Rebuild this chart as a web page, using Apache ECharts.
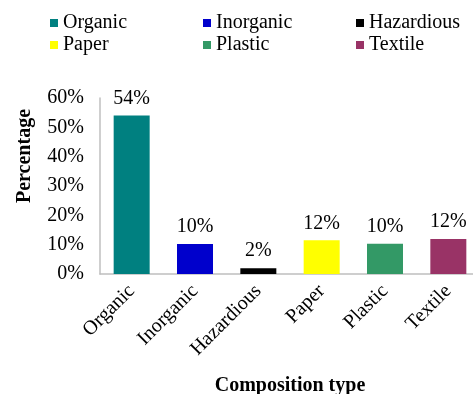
<!DOCTYPE html>
<html lang="en">
<head>
    <meta charset="UTF-8">
    <title>Composition type</title>
    <style>
        html, body { margin: 0; padding: 0; background: #fff; }
        #main { width: 473px; height: 394px; }
    </style>
</head>
<body>
<div id="main"></div>
<script src="https://cdn.jsdelivr.net/npm/echarts@6/dist/echarts.min.js"></script>
<script>
    const categories = ['Organic', 'Inorganic', 'Hazardious', 'Paper', 'Plastic', 'Textile'];
    const values = [54, 10.2, 2, 11.5, 10.3, 11.9];
    const colors = ['#008080', '#0000CC', '#000000', '#FFFF00', '#339966', '#993366'];
    const yTicks = [0, 10, 20, 30, 40, 50, 60];

    const font = 'Liberation Serif, Times New Roman, serif';

    // one series per category so the legend can list each of them
    const series = categories.map((name, i) => ({
        name: name,
        type: 'bar',
        stack: 'all',
        barWidth: 36,
        itemStyle: { color: colors[i] },
        label: {
            show: true,
            position: 'top',
            distance: 7,
            fontFamily: font,
            fontSize: 20,
            color: '#000',
            formatter: p => Math.round(p.value) + '%'
        },
        data: categories.map((c, j) => j === i ? values[i] : '-')
    }));

    const myChart = echarts.init(document.getElementById('main'));
    myChart.setOption({
        animation: false,
        legend: {
            left: 50,
            top: 12,
            width: 470,
            padding: 0,
            itemWidth: 8,
            itemHeight: 8,
            itemGap: 0,
            icon: 'rect',
            textStyle: {
                fontFamily: font,
                fontSize: 20,
                color: '#000',
                width: 140,
                lineHeight: 22
            },
            data: categories
        },
        grid: { left: 100, top: 98, width: 380, height: 176, containLabel: false, outerBoundsMode: 'none' },
        xAxis: {
            type: 'category',
            data: categories,
            name: 'Composition type',
            nameLocation: 'middle',
            nameGap: 102,
            nameTextStyle: { fontFamily: font, fontSize: 20, fontWeight: 'bold', color: '#000' },
            axisLine: { lineStyle: { color: '#bfbfbf', width: 1.5 } },
            axisTick: { show: false },
            axisLabel: {
                rotate: 45,
                margin: 14,
                fontFamily: font,
                fontSize: 20,
                color: '#000'
            }
        },
        yAxis: {
            type: 'value',
            min: yTicks[0],
            max: yTicks[yTicks.length - 1],
            interval: 10,
            axisLine: { show: true, lineStyle: { color: '#bfbfbf', width: 1.5 } },
            axisTick: { show: false },
            splitLine: { show: false },
            axisLabel: {
                margin: 16,
                fontFamily: font,
                fontSize: 20,
                color: '#000',
                formatter: v => v + '%'
            }
        },
        graphic: [{
            type: 'text',
            x: 25,
            y: 156,
            rotation: Math.PI / 2,
            style: {
                text: 'Percentage',
                fontFamily: font,
                fontSize: 20,
                fontWeight: 'bold',
                fill: '#000',
                align: 'center',
                verticalAlign: 'middle'
            }
        }],
        series: series
    });
</script>
</body>
</html>
